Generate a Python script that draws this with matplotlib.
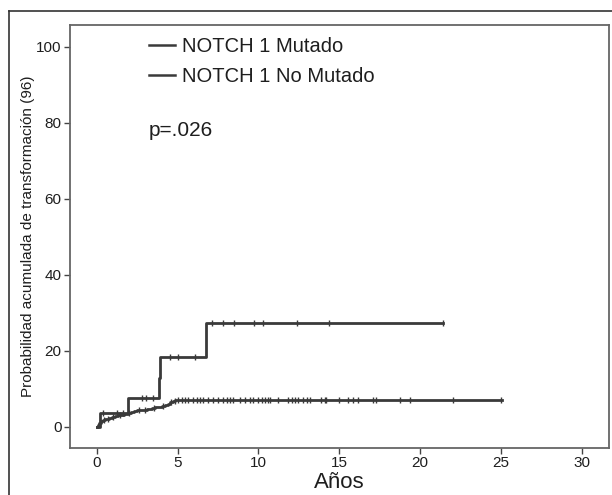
import matplotlib
matplotlib.use('Agg')
from matplotlib import pyplot as plt
from matplotlib.lines import Line2D

# NOTCH 1 mutated: event times (years) and cumulative probability (%)
mut_times = [0, 0.19, 1.9, 3.87, 3.9, 6.73]
mut_values = [0, 3.7, 7.5, 12.9, 18.4, 27.4]
mut_end = 21.4
mut_censor = [0.37, 1.24, 1.6, 2.77, 3.03, 3.45, 4.52, 5.03, 6.06,
              7.1, 7.8, 8.5, 9.7, 10.25, 12.36, 14.36, 21.4]

# NOTCH 1 non mutated
nm_times = [0, 0.05, 0.1, 0.15, 0.25, 0.35, 0.5, 0.6, 0.75, 0.9, 1.1, 1.3,
            1.5, 1.7, 1.9, 2.1, 2.3, 2.5, 2.8, 3.1, 3.4, 3.6, 3.8, 4.0, 4.2,
            4.4, 4.55, 4.7, 4.85]
nm_values = [0, 0.4, 0.8, 1.1, 1.4, 1.7, 1.9, 2.1, 2.4, 2.6, 2.8, 3.0,
             3.2, 3.4, 3.7, 3.9, 4.2, 4.4, 4.5, 4.7, 4.9, 5.1, 5.3, 5.5, 5.8,
             6.1, 6.4, 6.7, 6.9]
nm_end = 25.05
nm_censor = [0.2, 0.45, 0.7, 1.0, 1.4, 2.0, 2.6, 3.0, 3.5, 4.1, 4.6,
             4.83, 5.03, 5.24, 5.45, 5.65, 5.96, 6.17, 6.37, 6.58, 6.89,
             7.2, 7.5, 7.82, 8.03, 8.23, 8.44, 8.85, 9.16, 9.47, 9.67,
             9.98, 10.19, 10.4, 10.6, 10.7, 11.2, 11.84, 12.05, 12.25,
             12.46, 12.77, 12.98, 13.18, 13.9, 14.1, 14.2, 15.0, 15.55,
             15.86, 16.17, 17.1, 17.3, 18.75, 19.37, 22.05, 25.04]

labels = ['NOTCH 1 Mutado', 'NOTCH 1 No Mutado']
x_ticks = [0, 5, 10, 15, 20, 25, 30]
y_ticks = [0, 20, 40, 60, 80, 100]

plt.rcParams['font.family'] = ['Liberation Sans', 'DejaVu Sans']
line_color = '#3a3a3a'
text_color = '#1e1e1e'


def level_at(times, values, t):
    # value of the step curve at time t
    v = values[0]
    for tt, vv in zip(times, values):
        if tt <= t:
            v = vv
    return v


fig = plt.figure(figsize=(6.12, 4.95), dpi=100)
ax = fig.add_axes([70 / 612, 1 - 448 / 495, 539 / 612, 423 / 495])

for times, values, end, censor in [(mut_times, mut_values, mut_end, mut_censor),
                                   (nm_times, nm_values, nm_end, nm_censor)]:
    xs = times + [end]
    ys = values + [values[-1]]
    ax.step(xs, ys, where='post', color=line_color, lw=2.0, zorder=3)
    cy = [level_at(times, values, t) for t in censor]
    ax.plot(censor, cy, linestyle='none', marker='|', markersize=5,
            markeredgewidth=1.0, color=line_color, zorder=4)

ax.set_xlim(-1.67, 31.7)
ax.set_ylim(-5.6, 105.7)
ax.set_xticks(x_ticks)
ax.set_yticks(y_ticks)
ax.tick_params(direction='out', length=4, width=1, color='#444444',
               labelsize=11, labelcolor=text_color, pad=2)
for s in ax.spines.values():
    s.set_color('#666666')
    s.set_linewidth(1.3)

ax.set_xlabel('Años', fontsize=16, color=text_color, labelpad=1)
ax.set_ylabel('Probabilidad acumulada de transformación (96)', fontsize=11,
              color=text_color, labelpad=1)

handles = [Line2D([], [], color=line_color, lw=1.8) for _ in labels]
ax.legend(handles, labels, loc='upper left', bbox_to_anchor=(0.146, 0.972),
          frameon=False, fontsize=14.5, handlelength=1.3, handletextpad=0.35,
          labelspacing=0.55, borderpad=0, borderaxespad=0,
          labelcolor=text_color)

ax.text(3.2, 78, 'p=.026', fontsize=15, color=text_color, va='center',
        ha='left')

# outer frame around the whole figure
fig.add_artist(Line2D([9 / 612, 9 / 612], [0, 1 - 11 / 495],
                      transform=fig.transFigure, color='#333333', lw=1.2))
fig.add_artist(Line2D([9 / 612, 1], [1 - 11 / 495, 1 - 11 / 495],
                      transform=fig.transFigure, color='#333333', lw=1.2))

fig.savefig('out.png', dpi=100)
